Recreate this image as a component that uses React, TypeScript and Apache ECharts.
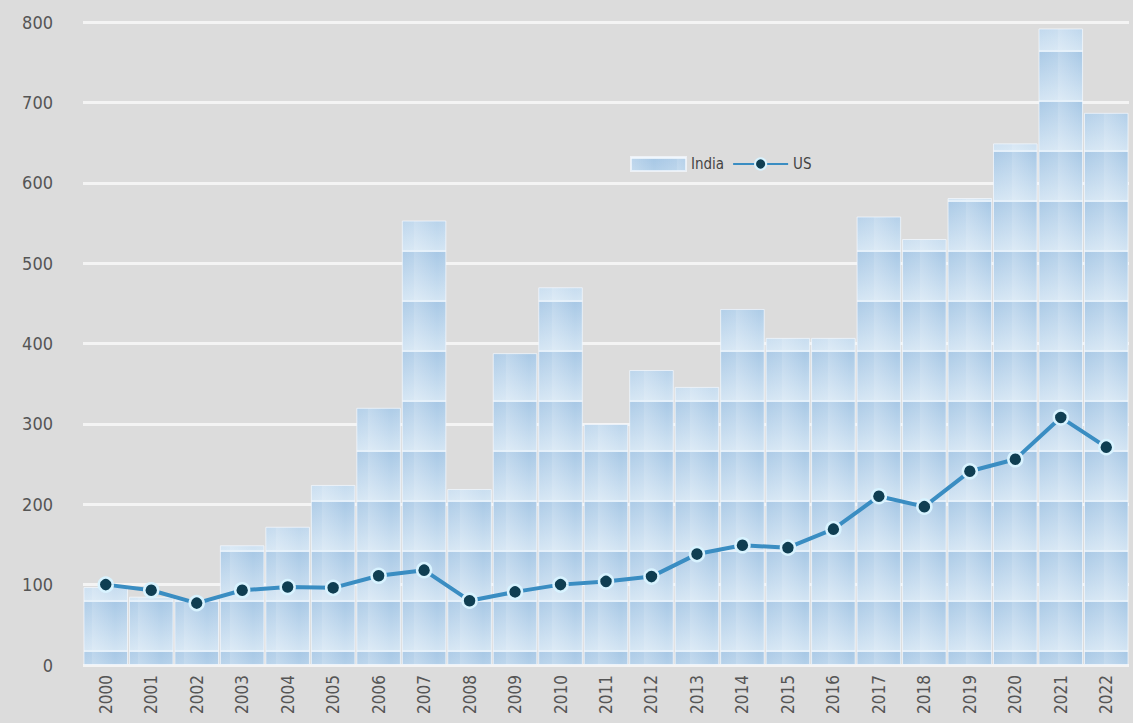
import React, { useEffect, useRef } from "react";
import * as echarts from "echarts";

const years = ["2000","2001","2002","2003","2004","2005","2006","2007","2008","2009","2010","2011","2012","2013","2014","2015","2016","2017","2018","2019","2020","2021","2022"];
const india = [97, 85, 82, 149, 172, 224, 320, 553, 219, 388, 470, 300, 367, 346, 443, 407, 407, 558, 530, 581, 649, 792, 687];
const us = [100, 93, 77, 93, 97, 96, 111, 118, 80, 91, 100, 104, 110, 138, 149, 146, 169, 210, 197, 241, 256, 308, 271];
const yTicks = [0, 100, 200, 300, 400, 500, 600, 700, 800];

const FONT = "'DejaVu Sans Condensed', 'Liberation Sans Narrow', 'DejaVu Sans', sans-serif";

function makeTile(): HTMLCanvasElement {
  const c = document.createElement("canvas");
  c.width = 46;
  c.height = 50;
  const ctx = c.getContext("2d")!;
  const g = ctx.createLinearGradient(0, 0, 0, 50);
  g.addColorStop(0, "#a6c7e5");
  g.addColorStop(1, "#d2e4f3");
  ctx.fillStyle = g;
  ctx.fillRect(0, 0, 46, 50);
  const h = ctx.createLinearGradient(0, 0, 46, 0);
  h.addColorStop(0, "rgba(255,255,255,0.25)");
  h.addColorStop(0.5, "rgba(255,255,255,0)");
  h.addColorStop(1, "rgba(255,255,255,0.15)");
  ctx.fillStyle = h;
  ctx.fillRect(0, 0, 46, 50);
  ctx.fillStyle = "rgba(235,244,252,0.9)";
  ctx.fillRect(0, 0, 46, 2);
  return c;
}

export default function App() {
  const ref = useRef<HTMLDivElement>(null);
  useEffect(() => {
    if (!ref.current) return;
    const chart = echarts.init(ref.current, null, { renderer: "svg" });
    const tile = makeTile();
    const barFill: any = { image: tile, repeat: "repeat" };
    chart.setOption({
      animation: false,
      backgroundColor: "#dcdcdc",
      grid: { left: 83, right: 4, top: 22, bottom: 58 },
      legend: {
        left: 625,
        top: 151,
        itemGap: 8,
        itemWidth: 55,
        itemHeight: 14,
        textStyle: { fontFamily: FONT, fontSize: 15, color: "#444" },
        data: [
          { name: "India", icon: "rect" },
          { name: "US" },
        ],
      },
      xAxis: {
        type: "category",
        data: years,
        axisLine: { show: false },
        axisTick: { show: false },
        axisLabel: {
          rotate: 90,
          margin: 10,
          fontFamily: FONT,
          fontSize: 17,
          color: "#555",
        },
      },
      yAxis: {
        type: "value",
        min: yTicks[0],
        max: yTicks[yTicks.length - 1],
        interval: 100,
        axisLine: { show: false },
        axisTick: { show: false },
        axisLabel: { margin: 30, fontFamily: FONT, fontSize: 18, color: "#555" },
        splitLine: { lineStyle: { color: "#f4f4f4", width: 3 } },
      },
      series: [
        {
          name: "India",
          type: "bar",
          data: india,
          barCategoryGap: "2%",
          itemStyle: {
            color: barFill,
            borderColor: "rgba(245,250,255,0.7)",
            borderWidth: 1,
          },
        },
        {
          name: "US",
          type: "line",
          data: us,
          symbol: "circle",
          symbolSize: 14,
          lineStyle: { color: "#3a8dc2", width: 4 },
          itemStyle: { color: "#0f3e52", borderColor: "#d8f3ff", borderWidth: 2.5 },
        },
      ],
    });
    return () => chart.dispose();
  }, []);
  return <div ref={ref} style={{ width: 1133, height: 723, position: "absolute", left: 0, top: 0 }} />;
}
